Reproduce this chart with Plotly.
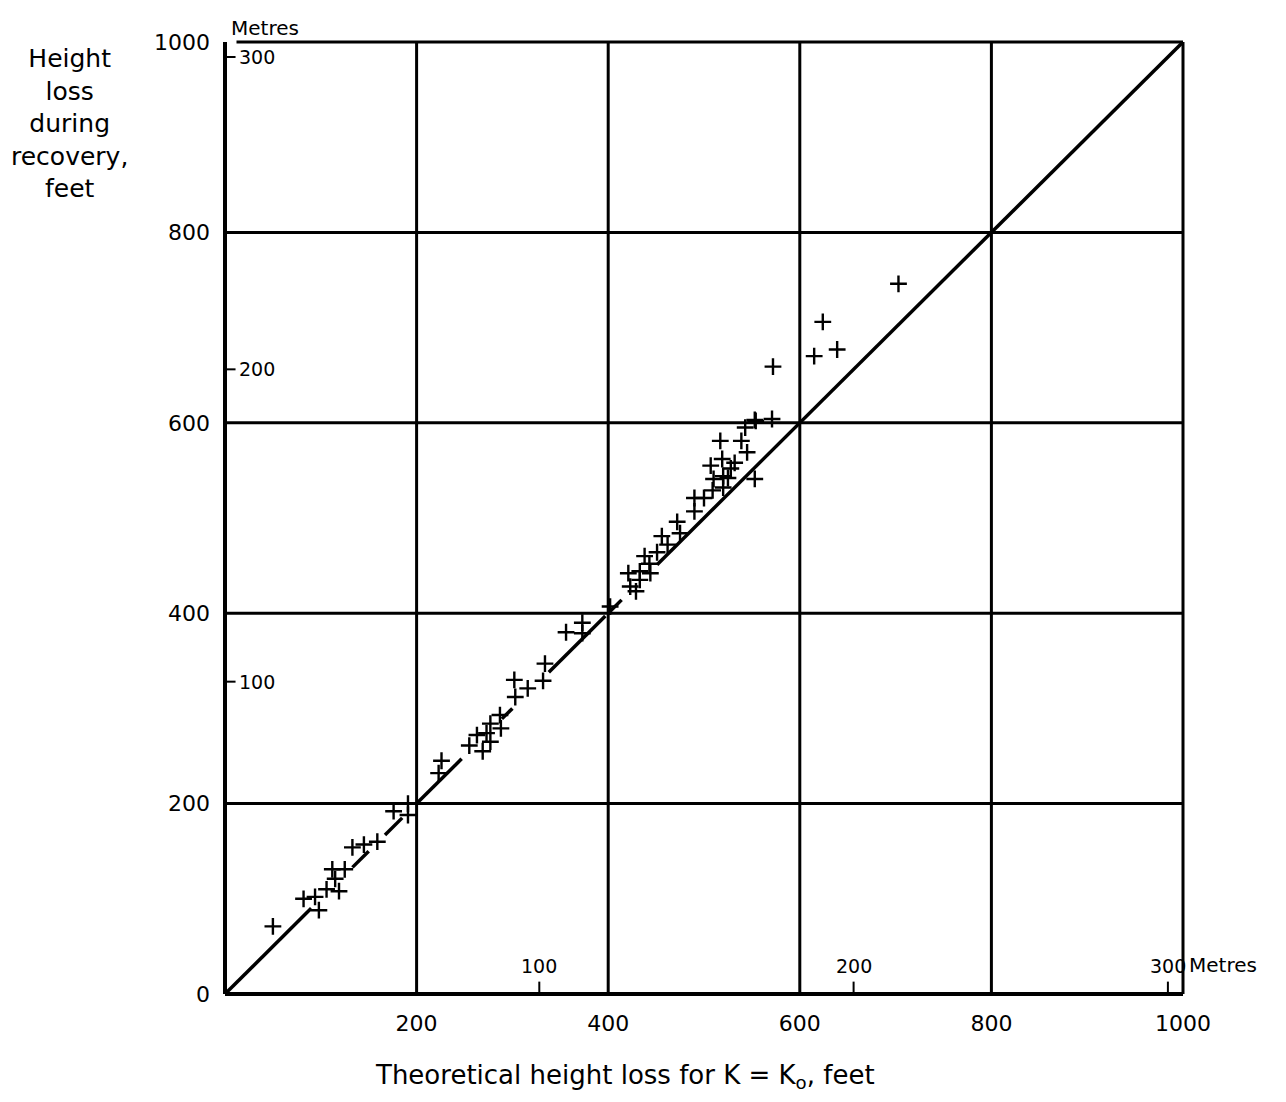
import plotly.graph_objects as go

# Measured height loss (feet) against theoretical height loss for K = K0 (feet)
theory_ft = [50, 82, 94, 98, 106, 119, 115, 112, 125, 133, 145, 159, 176, 191, 191,
             223, 226, 255, 263, 269, 273, 277, 277, 288, 287, 303, 302, 316, 332, 334,
             356, 373, 373, 402,
             421, 423, 429, 433, 433, 438, 443, 444, 451, 456, 462, 472, 475, 490, 490,
             500, 509, 510, 507, 517, 519, 520, 520, 525, 528, 532, 539, 543, 545, 553,
             553, 554, 571, 572, 615, 624, 639, 703]
measured_ft = [71, 100, 102, 88, 110, 108, 121, 131, 131, 154, 157, 160, 192, 200, 188,
               232, 245, 261, 272, 255, 274, 265, 284, 279, 293, 312, 330, 321, 329, 347,
               380, 390, 379, 407,
               442, 428, 423, 444, 435, 460, 452, 442, 464, 481, 472, 496, 484, 507, 521,
               521, 529, 541, 555, 581, 562, 532, 544, 542, 552, 558, 581, 595, 569, 603,
               541, 602, 604, 659, 670, 706, 677, 746]

# Segments of the hand-drawn line of equality (y = x), broken around the crosses
equality_segments = [(0, 90), (133, 150), (167, 185), (200, 247), (289, 300),
                     (338, 397), (401, 414), (451, 1000)]

grid_ft = [200, 400, 600, 800]
x_tick_ft = [200, 400, 600, 800, 1000]
y_tick_ft = [0, 200, 400, 600, 800, 1000]
metre_ticks = [100, 200, 300]
FT_PER_M = 3.2808

FONT = "DejaVu Sans"

fig = go.Figure()

line_x, line_y = [], []
for a, b in equality_segments:
    line_x += [a, b, None]
    line_y += [a, b, None]
fig.add_trace(go.Scatter(x=line_x, y=line_y, mode="lines",
                         line=dict(color="black", width=3.5), hoverinfo="skip"))

fig.add_trace(go.Scatter(x=theory_ft, y=measured_ft, mode="markers",
                         marker=dict(symbol="cross-thin", size=12,
                                     line=dict(color="black", width=2.4))))

shapes = []
# Interior grid lines
for g in grid_ft:
    shapes.append(dict(type="line", xref="x", yref="y", x0=g, x1=g, y0=0, y1=1000,
                       line=dict(color="black", width=3)))
    shapes.append(dict(type="line", xref="x", yref="y", x0=0, x1=1000, y0=g, y1=g,
                       line=dict(color="black", width=3)))
# Top and right frame lines (paper refs so they are not clipped at the edge)
shapes.append(dict(type="line", xref="paper", yref="paper", x0=0.012, x1=1, y0=1, y1=1,
                   line=dict(color="black", width=3)))
shapes.append(dict(type="line", xref="paper", yref="paper", x0=1, x1=1, y0=0, y1=1,
                   line=dict(color="black", width=3)))
# Main axes
shapes.append(dict(type="line", xref="paper", yref="paper", x0=0, x1=0, y0=0, y1=1,
                   line=dict(color="black", width=4)))
shapes.append(dict(type="line", xref="paper", yref="paper", x0=0, x1=1, y0=0, y1=0,
                   line=dict(color="black", width=4)))

annotations = []
# Metre scales on the left and bottom axes
for m in metre_ticks:
    ft = m * FT_PER_M
    shapes.append(dict(type="line", xref="x", yref="y", x0=0, x1=11, y0=ft, y1=ft,
                       line=dict(color="black", width=2)))
    annotations.append(dict(x=13, y=ft, xref="x", yref="y", text=str(m), showarrow=False,
                            xanchor="left", yanchor="middle",
                            font=dict(family=FONT, size=19, color="black")))
    shapes.append(dict(type="line", xref="x", yref="y", x0=ft, x1=ft, y0=0, y1=13,
                       line=dict(color="black", width=2)))
    annotations.append(dict(x=ft, y=16, xref="x", yref="y", text=str(m), showarrow=False,
                            xanchor="center", yanchor="bottom",
                            font=dict(family=FONT, size=19, color="black")))

annotations += [
    dict(x=0.042, y=1.0, xref="paper", yref="paper", text="Metres", showarrow=False,
         xanchor="center", yanchor="bottom", font=dict(family=FONT, size=20, color="black")),
    dict(x=1.0, y=16, xref="paper", yref="y", text="Metres", showarrow=False,
         xanchor="left", yanchor="bottom", xshift=4,
         font=dict(family=FONT, size=20, color="black")),
    dict(x=-0.162, y=1.0, xref="paper", yref="paper",
         text="Height<br>loss<br>during<br>recovery,<br>feet", showarrow=False,
         xanchor="center", yanchor="top", align="center",
         font=dict(family=FONT, size=25, color="black")),
    dict(x=0.4175, y=-0.087, xref="paper", yref="paper",
         text="Theoretical height loss for K = K<sub>o</sub>, feet", showarrow=False,
         xanchor="center", yanchor="middle",
         font=dict(family=FONT, size=26, color="black")),
]

fig.update_layout(
    width=1286, height=1102,
    margin=dict(l=225, r=103, t=42, b=108),
    paper_bgcolor="white", plot_bgcolor="white",
    showlegend=False,
    shapes=shapes, annotations=annotations,
    xaxis=dict(range=[0, 1000], tickvals=x_tick_ft, ticktext=[str(v) for v in x_tick_ft],
               showgrid=False, zeroline=False, showline=False, ticks="",
               ticklabelstandoff=14,
               tickfont=dict(family=FONT, size=22, color="black")),
    yaxis=dict(range=[0, 1000], tickvals=y_tick_ft, ticktext=[str(v) for v in y_tick_ft],
               showgrid=False, zeroline=False, showline=False, ticks="",
               ticklabelstandoff=14,
               tickfont=dict(family=FONT, size=22, color="black")),
)

fig.write_html("out.html")
